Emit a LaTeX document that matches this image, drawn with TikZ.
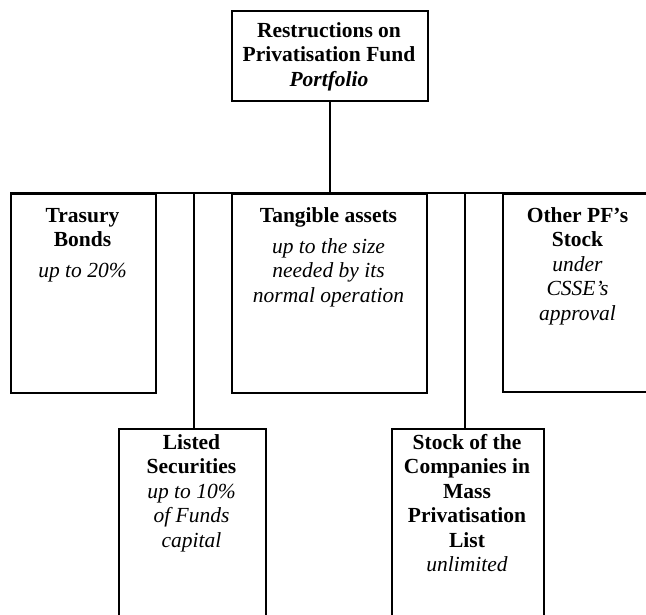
\documentclass[tikz,border=0pt]{standalone}
\usepackage{fontspec}
\setmainfont{Liberation Serif}
\begin{document}
\begin{tikzpicture}[x=1pt,y=-1pt,
  box/.style={draw, line width=1.8pt, inner sep=0pt, anchor=north west},
  conn/.style={line width=2pt},
  txt/.style={anchor=north, align=center, inner sep=0pt, font=\fontsize{21.5}{24.5}\selectfont}]
\clip (0,0) rectangle (646,615);
\fill[white] (0,0) rectangle (646,615);
% boxes
\node[box, minimum width=196pt, minimum height=90pt] (top) at (231,10) {};
\node[box, minimum width=145pt, minimum height=199pt] (tb) at (10,193) {};
\node[box, minimum width=195pt, minimum height=199pt] (ta) at (231,193) {};
\node[box, minimum width=160pt, minimum height=198pt] (op) at (502,193) {};
\node[box, minimum width=147pt, minimum height=200pt] (ls) at (118,428) {};
\node[box, minimum width=152pt, minimum height=200pt] (sk) at (391,428) {};
% connectors
\coordinate (bar) at (top.south |- tb.north);
\coordinate (lsj) at ([xshift=1.5pt]ls.north);
\coordinate (skj) at ([xshift=-3pt]sk.north);
\draw[conn] (tb.north west) -- (op.north east);
\draw[conn] (top.south) -- (bar);
\draw[conn] (lsj) -- (lsj |- tb.north);
\draw[conn] (skj) -- (skj |- tb.north);
% texts
\node[txt] (toptxt) at (329,22) {\textbf{Restructions on}\\ \textbf{Privatisation Fund}\\ \textbf{\textit{Portfolio}}};
\node[txt] (tbtxt) at (82.5,208) {\textbf{Trasury}\\ \textbf{Bonds}\\[6.5pt] \textit{up to 20\%}};
\node[txt] (tatxt) at (328.5,207) {\textbf{Tangible assets}\\[6.5pt] \textit{up to the size}\\ \textit{needed by its}\\ \textit{normal operation}};
\node[txt] (optxt) at (577.5,207) {\textbf{Other PF's}\\ \textbf{Stock}\\ \textit{under}\\ \textit{CSSE's}\\ \textit{approval}};
\node[txt] (lstxt) at (191.5,434) {\textbf{Listed}\\ \textbf{Securities}\\ \textit{up to 10\%}\\ \textit{of Funds}\\ \textit{capital}};
\node[txt] (sktxt) at (467,434) {\textbf{Stock of the}\\ \textbf{Companies in}\\ \textbf{Mass}\\ \textbf{Privatisation}\\ \textbf{List}\\ \textit{unlimited}};
\end{tikzpicture}
\end{document}
